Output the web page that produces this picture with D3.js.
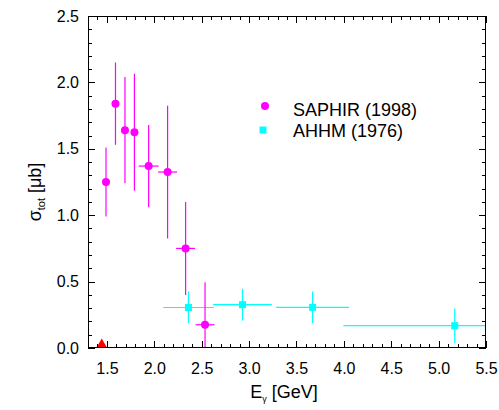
<!DOCTYPE html>
<html>
<head>
<meta charset="utf-8">
<script src="https://cdn.jsdelivr.net/npm/d3@7"></script>
<style>
  body { margin: 0; background: #fff; }
  text { font-family: "Liberation Sans", Arial, sans-serif; }
</style>
</head>
<body>
<div id="wrapper"></div>
<script>
// SAPHIR (1998)
const saphirE = [1.49, 1.59, 1.69, 1.79, 1.94, 2.14, 2.33, 2.535]
const saphirSigma = [1.25, 1.84, 1.64, 1.625, 1.37, 1.325, 0.75, 0.175]
const saphirErrY = [0.26, 0.31, 0.40, 0.44, 0.31, 0.50, 0.35, 0.32]
const saphirErrX = [0, 0, 0, 0, 0.105, 0.10, 0.10, 0.10]

// AHHM (1976)
const ahhmE = [2.36, 2.93, 3.67, 5.17]
const ahhmSigma = [0.305, 0.326, 0.306, 0.168]
const ahhmErrY = [0.12, 0.12, 0.12, 0.13]
const ahhmELow = [2.095, 2.62, 3.285, 3.995]
const ahhmEHigh = [2.63, 3.24, 4.055, 5.6]

// threshold marker
const thresholdE = [1.445]
const thresholdSigma = [0.02]

const xTicks = [1.5, 2.0, 2.5, 3.0, 3.5, 4.0, 4.5, 5.0, 5.5]
const yTicks = [0.0, 0.5, 1.0, 1.5, 2.0, 2.5]

function drawChart() {
  let dimensions = {
    width: 499,
    height: 410,
    margin: { top: 16, right: 13, bottom: 62, left: 88 },
  }
  dimensions.boundedWidth = dimensions.width - dimensions.margin.left - dimensions.margin.right
  dimensions.boundedHeight = dimensions.height - dimensions.margin.top - dimensions.margin.bottom

  const wrapper = d3.select("#wrapper")
    .append("svg")
      .attr("width", dimensions.width)
      .attr("height", dimensions.height)

  const bounds = wrapper.append("g")
    .attr("transform", `translate(${dimensions.margin.left},${dimensions.margin.top})`)

  const xScale = d3.scaleLinear()
    .domain([1.3, 5.5])
    .range([0, dimensions.boundedWidth])

  const yScale = d3.scaleLinear()
    .domain([0, 2.5])
    .range([dimensions.boundedHeight, 0])

  bounds.append("clipPath").attr("id", "clip")
    .append("rect")
      .attr("width", dimensions.boundedWidth)
      .attr("height", dimensions.boundedHeight)

  const plot = bounds.append("g").attr("clip-path", "url(#clip)")

  // ticks (inward, mirrored on all sides)
  const minorX = d3.range(13, 56).map(d => d / 10)
  const minorY = d3.range(0, 26).map(d => d / 10)
  const isMajor = v => Math.abs(v * 2 - Math.round(v * 2)) < 1e-6
  const tickG = bounds.append("g").attr("stroke", "#000").attr("stroke-width", 1)
  minorX.forEach(v => {
    const len = isMajor(v) ? 7 : 4
    const x = Math.round(xScale(v)) + 0.5
    tickG.append("line").attr("x1", x).attr("x2", x)
      .attr("y1", dimensions.boundedHeight).attr("y2", dimensions.boundedHeight - len)
    tickG.append("line").attr("x1", x).attr("x2", x)
      .attr("y1", 0).attr("y2", len)
  })
  minorY.forEach(v => {
    const len = isMajor(v) ? 7 : 4
    const y = Math.round(yScale(v)) + 0.5
    tickG.append("line").attr("y1", y).attr("y2", y)
      .attr("x1", 0).attr("x2", len)
    tickG.append("line").attr("y1", y).attr("y2", y)
      .attr("x1", dimensions.boundedWidth).attr("x2", dimensions.boundedWidth - len)
  })

  // tick labels via axes
  const xAxis = bounds.append("g")
    .attr("transform", `translate(0,${dimensions.boundedHeight})`)
    .call(d3.axisBottom(xScale).tickValues(xTicks).tickFormat(d3.format(".1f")).tickSize(0).tickPadding(15))
  const yAxis = bounds.append("g")
    .call(d3.axisLeft(yScale).tickValues(yTicks).tickFormat(d3.format(".1f")).tickSize(0).tickPadding(9))
  ;[xAxis, yAxis].forEach(a => {
    a.select(".domain").remove()
    a.selectAll("text").attr("font-size", 16).attr("fill", "#000")
      .style("font-family", "'Liberation Sans', Arial, sans-serif")
  })

  // AHHM error bars
  const ahhm = ahhmE.map((e, i) => ({ e, s: ahhmSigma[i], dy: ahhmErrY[i], lo: ahhmELow[i], hi: ahhmEHigh[i] }))
  const cyan = "#00ffff"
  plot.selectAll(".ahhm-h").data(ahhm).join("line")
    .attr("x1", d => xScale(d.lo)).attr("x2", d => xScale(d.hi))
    .attr("y1", d => yScale(d.s)).attr("y2", d => yScale(d.s))
    .attr("stroke", cyan).attr("stroke-width", 1.2)
  plot.selectAll(".ahhm-v").data(ahhm).join("line")
    .attr("x1", d => xScale(d.e)).attr("x2", d => xScale(d.e))
    .attr("y1", d => yScale(d.s - d.dy)).attr("y2", d => yScale(d.s + d.dy))
    .attr("stroke", cyan).attr("stroke-width", 1.2)
  plot.selectAll(".ahhm-p").data(ahhm).join("rect")
    .attr("x", d => xScale(d.e) - 3.5).attr("y", d => yScale(d.s) - 3.5)
    .attr("width", 7).attr("height", 7)
    .attr("fill", cyan)

  // SAPHIR error bars
  const saphir = saphirE.map((e, i) => ({ e, s: saphirSigma[i], dy: saphirErrY[i], dx: saphirErrX[i] }))
  const magenta = "#ff00ff"
  plot.selectAll(".sap-h").data(saphir.filter(d => d.dx > 0)).join("line")
    .attr("x1", d => xScale(d.e - d.dx)).attr("x2", d => xScale(d.e + d.dx))
    .attr("y1", d => yScale(d.s)).attr("y2", d => yScale(d.s))
    .attr("stroke", magenta).attr("stroke-width", 1.2)
  plot.selectAll(".sap-v").data(saphir).join("line")
    .attr("x1", d => xScale(d.e)).attr("x2", d => xScale(d.e))
    .attr("y1", d => yScale(d.s - d.dy)).attr("y2", d => yScale(d.s + d.dy))
    .attr("stroke", magenta).attr("stroke-width", 1.2)
  plot.selectAll(".sap-p").data(saphir).join("circle")
    .attr("cx", d => xScale(d.e)).attr("cy", d => yScale(d.s))
    .attr("r", 4)
    .attr("fill", magenta)

  // threshold triangle
  plot.selectAll(".thr").data(thresholdE).join("path")
    .attr("d", d3.symbol(d3.symbolTriangle, 60))
    .attr("transform", (d, i) => `translate(${xScale(d)},${yScale(thresholdSigma[i])})`)
    .attr("fill", "#ff0000")

  // frame
  bounds.append("rect")
    .attr("x", 0.5).attr("y", 0.5)
    .attr("width", dimensions.boundedWidth - 1)
    .attr("height", dimensions.boundedHeight - 1)
    .attr("fill", "none").attr("stroke", "#000").attr("stroke-width", 1)

  // legend
  const legend = wrapper.append("g")
  legend.append("circle").attr("cx", 265).attr("cy", 106).attr("r", 4).attr("fill", magenta)
  legend.append("text").attr("x", 293).attr("y", 115.5).attr("font-size", 18).text("SAPHIR (1998)")
  legend.append("rect").attr("x", 263 - 3.5).attr("y", 130 - 3.5).attr("width", 7).attr("height", 7).attr("fill", cyan)
  legend.append("text").attr("x", 293).attr("y", 137).attr("font-size", 18).text("AHHM (1976)")

  // axis titles
  const yTitle = wrapper.append("text")
    .attr("transform", `translate(41,192) rotate(-90)`)
    .attr("text-anchor", "middle")
    .attr("font-size", 18)
  yTitle.append("tspan").text("σ")
  yTitle.append("tspan").attr("font-size", 11).attr("dy", 4).text("tot")
  yTitle.append("tspan").attr("dy", -4).text(" [μb]")

  const xTitle = wrapper.append("text")
    .attr("x", 284).attr("y", 398)
    .attr("text-anchor", "middle")
    .attr("font-size", 18)
  xTitle.append("tspan").text("E")
  xTitle.append("tspan").attr("font-size", 9).attr("dy", 4).text("γ")
  xTitle.append("tspan").attr("dy", -4).text(" [GeV]")
}

drawChart()
</script>
</body>
</html>
